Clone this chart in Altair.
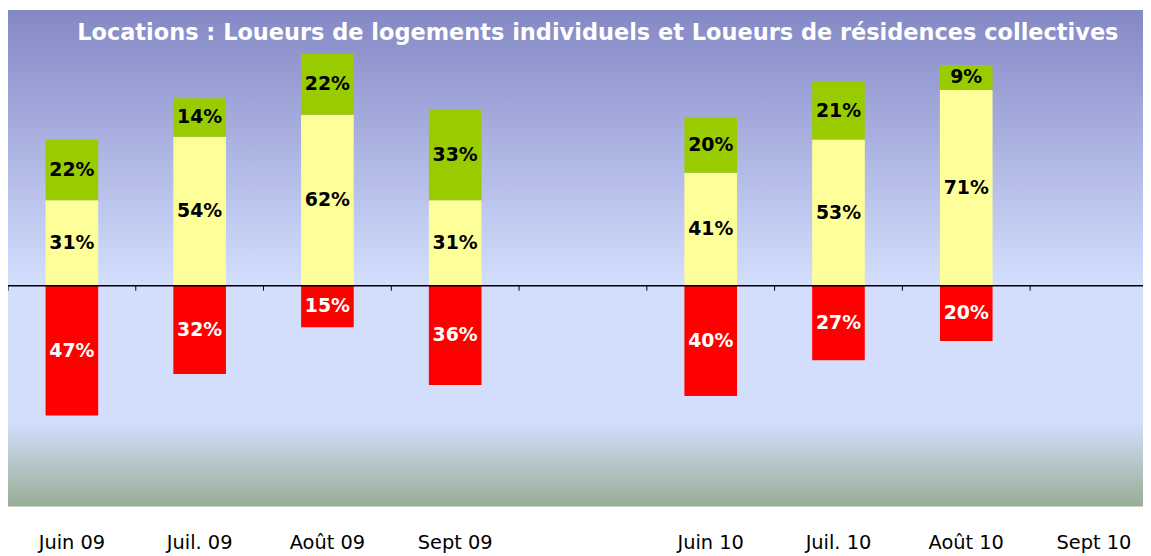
import altair as alt
import pandas as pd

# ---- data ----
categories = ["Juin 09", "Juil. 09", "Août 09", "Sept 09", " ", "Juin 10", "Juil. 10", "Août 10", "Sept 10"]
months = ["Juin 09", "Juil. 09", "Août 09", "Sept 09", "Juin 10", "Juil. 10", "Août 10"]
stable = [31, 54, 62, 31, 41, 53, 71]   # yellow
hausse = [22, 14, 22, 33, 20, 21, 9]    # green
baisse = [47, 32, 15, 36, 40, 27, 20]   # red (drawn below zero)
subtitle = ["Locations : Loueurs de logements individuels et Loueurs de résidences collectives"]

series = ["Stable", "Hausse", "Baisse"]
series_colors = ["#FFFF99", "#99CC00", "#FF0000"]
label_colors = {"Stable": "black", "Hausse": "black", "Baisse": "white"}

rows = []
for m, s, h, b in zip(months, stable, hausse, baisse):
    rows.append({"cat": m, "serie": "Stable", "y0": 0, "y1": s, "lab": f"{s}%"})
    rows.append({"cat": m, "serie": "Hausse", "y0": s, "y1": s + h, "lab": f"{h}%"})
    rows.append({"cat": m, "serie": "Baisse", "y0": 0, "y1": -b, "lab": f"{b}%"})
df = pd.DataFrame(rows)
df["mid"] = (df["y0"] + df["y1"]) / 2
df["lc"] = df["serie"].map(label_colors)

W, H = 1143, 500

xscale = alt.Scale(domain=categories, range=[0, 1158], paddingInner=0, paddingOuter=0)
xaxis = alt.Axis(title=None, domain=False, ticks=False, grid=False, labelAngle=0,
                 labelPadding=27, labelFont="DejaVu Sans", labelFontSize=19.5,
                 labelColor="black", labelOverlap=False)
yscale = alt.Scale(domain=[-80, 100], nice=False, zero=False)


def X(**kw):
    return alt.X("cat:N", scale=xscale, axis=xaxis, **kw)


gradient = alt.Gradient(
    gradient="linear", x1=0, x2=0, y1=0, y2=1,
    stops=[
        alt.GradientStop(offset=0, color="#8488C5"),
        alt.GradientStop(offset=0.55, color="#D3DEFD"),
        alt.GradientStop(offset=0.83, color="#D3DEFD"),
        alt.GradientStop(offset=1, color="#99AD95"),
    ],
)

bg = alt.Chart(pd.DataFrame({"a": [0]})).mark_rect(color=gradient).encode(
    x=alt.value(0), x2=alt.value(W), y=alt.value(0), y2=alt.value(H)
)

bars = alt.Chart(df).mark_bar(size=53).encode(
    x=X(),
    y=alt.Y("y0:Q", scale=yscale, axis=None),
    y2="y1:Q",
    color=alt.Color("serie:N", scale=alt.Scale(domain=series, range=series_colors), legend=None),
)

zero = alt.Chart(pd.DataFrame({"a": [0]})).mark_rule(color="black", strokeWidth=1.5).encode(
    y=alt.Y("a:Q", scale=yscale, axis=None)
)

ticks = alt.Chart(pd.DataFrame({"cat": categories})).mark_rule(color="black", strokeWidth=1).encode(
    x=X(bandPosition=0),
    y=alt.datum(0),
    y2=alt.datum(-1.8),
)

labels = alt.Chart(df).mark_text(
    font="DejaVu Sans", fontWeight="bold", fontSize=19, baseline="middle", align="center"
).encode(
    x=X(),
    y=alt.Y("mid:Q", scale=yscale, axis=None),
    text="lab:N",
    color=alt.Color("lc:N", scale=None),
)

sub = alt.Chart(pd.DataFrame({"t": subtitle})).mark_text(
    font="DejaVu Sans", fontWeight="bold", fontSize=22.6, color="white",
    align="center", baseline="alphabetic"
).encode(text="t:N", x=alt.value(594), y=alt.value(30))

chart = alt.layer(bg, bars, labels, zero, ticks, sub).properties(
    width=W, height=H,
    autosize=alt.AutoSizeParams(type="none"),
    padding={"left": 0, "top": 0, "right": 0, "bottom": 48},
).configure_view(stroke=None)

chart.save("out.html", embed_options={"renderer": "svg", "actions": False})
